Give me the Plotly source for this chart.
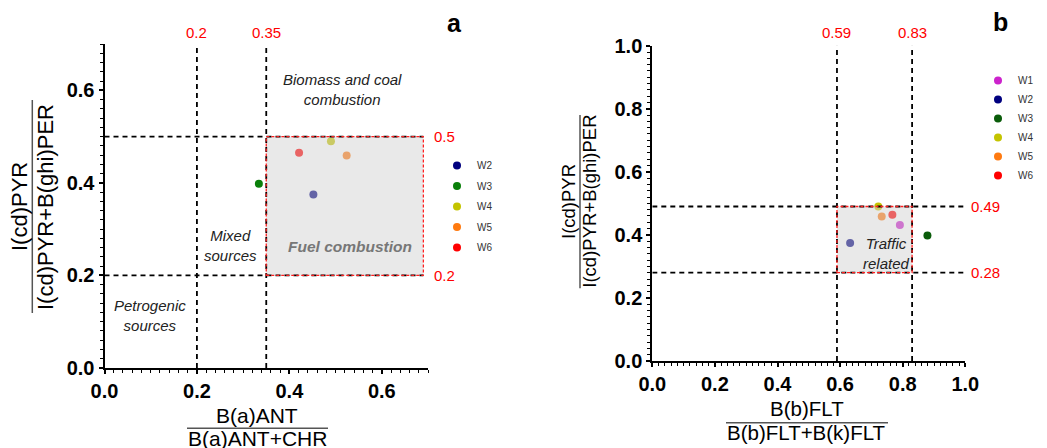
import plotly.graph_objects as go

# page body has an 8px margin: the figure is drawn 8px in from the window's corner
OFF = 8
W, H = 1047 - OFF, 448 - OFF

# ---------------- data ----------------
sites_a = ["W2", "W3", "W4", "W5", "W6"]
a_x = [0.452, 0.334, 0.490, 0.524, 0.421]
a_y = [0.375, 0.398, 0.490, 0.459, 0.465]

sites_b = ["W1", "W2", "W3", "W4", "W5", "W6"]
b_x = [0.791, 0.632, 0.879, 0.722, 0.733, 0.767]
b_y = [0.431, 0.374, 0.398, 0.490, 0.458, 0.464]

colors_a = {"W2": "#00007f", "W3": "#0a800a", "W4": "#c4c400", "W5": "#ff7a10", "W6": "#ff0000"}
colors_b = {"W1": "#cc22cc", "W2": "#00007f", "W3": "#0a5c0a", "W4": "#c4c400", "W5": "#ff7a10", "W6": "#ff0000"}

a_xcuts = [0.2, 0.35]
a_ycuts = [0.2, 0.5]
a_box = [0.35, 0.69, 0.2, 0.5]
a_range = [0, 0.7]
a_ticks = [0.0, 0.2, 0.4, 0.6]

b_xcuts = [0.59, 0.83]
b_ycuts = [0.28, 0.49]
b_box = [0.59, 0.83, 0.28, 0.49]
b_range = [0, 1.0]
b_ticks = [0.0, 0.2, 0.4, 0.6, 0.8, 1.0]

FONT = "Liberation Sans, Arial, sans-serif"


def px(x):
    return (x - OFF) / W


def py(y):
    return (H - (y - OFF)) / H


fig = go.Figure()

for s, x, y in zip(sites_a, a_x, a_y):
    fig.add_trace(go.Scatter(x=[x], y=[y], mode="markers", name=s,
                             marker=dict(color=colors_a[s], size=8),
                             xaxis="x", yaxis="y", legend="legend",
                             legendgroup="a" + s))
for s, x, y in zip(sites_b, b_x, b_y):
    fig.add_trace(go.Scatter(x=[x], y=[y], mode="markers", name=s,
                             marker=dict(color=colors_b[s], size=8),
                             xaxis="x2", yaxis="y2", legend="legend2",
                             legendgroup="b" + s))

shapes = []
annotations = []


def panel(xr, yr, xcuts, ycuts, box, rng, lab_px, ly_off, hline_end):
    x0, x1, y0, y1 = box
    # translucent box drawn above the markers
    shapes.append(dict(type="rect", xref=xr, yref=yr, x0=x0, x1=x1, y0=y0, y1=y1,
                       fillcolor="rgba(208,208,208,0.48)", line=dict(width=0), layer="above"))
    for c in xcuts:
        shapes.append(dict(type="line", xref=xr, yref=yr, x0=c, x1=c, y0=rng[0], y1=rng[1],
                           line=dict(color="black", width=1.8, dash="5px,4px"), layer="above"))
    for c in ycuts:
        shapes.append(dict(type="line", xref=xr, yref=yr, x0=rng[0], x1=hline_end,
                           y0=c, y1=c,
                           line=dict(color="black", width=1.8, dash="5px,4px"), layer="above"))
    shapes.append(dict(type="rect", xref=xr, yref=yr, x0=x0, x1=x1, y0=y0, y1=y1,
                       fillcolor="rgba(0,0,0,0)", line=dict(color="#ff2020", width=1.3, dash="3px,2px"),
                       layer="above"))
    for c in xcuts:
        annotations.append(dict(xref=xr, yref="paper", x=c, y=ly_off, text=f"{c:g}", showarrow=False,
                                font=dict(family=FONT, size=15, color="#ff0000"), xanchor="center",
                                yanchor="middle"))
    for c in ycuts:
        annotations.append(dict(xref="paper", yref=yr, x=px(lab_px), y=c, text=f"{c:g}", showarrow=False,
                                font=dict(family=FONT, size=15, color="#ff0000"), xanchor="left",
                                yanchor="middle"))


panel("x", "y", a_xcuts, a_ycuts, a_box, a_range, 432, py(33), a_box[1])
panel("x2", "y2", b_xcuts, b_ycuts, b_box, b_range, 969, py(32), b_range[1])

# region labels
reg_font = dict(family=FONT, size=15, color="#222")
annotations += [
    dict(xref="x", yref="y", x=0.516, y=0.601, text="<i>Biomass and coal<br>combustion</i>",
         showarrow=False, font=reg_font),
    dict(xref="x", yref="y", x=0.2735, y=0.265, text="<i>Mixed<br>sources</i>",
         showarrow=False, font=reg_font),
    dict(xref="x", yref="y", x=0.098, y=0.113, text="<i>Petrogenic<br>sources</i>",
         showarrow=False, font=reg_font),
    dict(xref="x", yref="y", x=0.531, y=0.263, text="<b><i>Fuel combustion</i></b>",
         showarrow=False, font=dict(family=FONT, size=15.5, color="#777")),
    dict(xref="x2", yref="y2", x=0.749, y=0.34, text="<i>Traffic<br>related</i>",
         showarrow=False, font=reg_font),
]

# panel letters
annotations += [
    dict(xref="paper", yref="paper", x=px(454), y=py(23), text="<b>a</b>", showarrow=False,
         xanchor="center", yanchor="middle", font=dict(family=FONT, size=25, color="black")),
    dict(xref="paper", yref="paper", x=px(1000), y=py(22), text="<b>b</b>", showarrow=False,
         xanchor="center", yanchor="middle", font=dict(family=FONT, size=25, color="black")),
]


# fraction axis titles
def frac_h(cx, ny, by, dy, bx0, bx1, num, den, size):
    for t, yy in ((num, ny), (den, dy)):
        annotations.append(dict(xref="paper", yref="paper", x=px(cx), y=py(yy), text=t, showarrow=False,
                                xanchor="center", yanchor="middle",
                                font=dict(family=FONT, size=size, color="black")))
    shapes.append(dict(type="line", xref="paper", yref="paper", x0=px(bx0), x1=px(bx1), y0=py(by), y1=py(by),
                       line=dict(color="#555", width=1.5)))


def frac_v(cy, nx, bx, dx, by0, by1, num, den, size):
    for t, xx in ((num, nx), (den, dx)):
        annotations.append(dict(xref="paper", yref="paper", x=px(xx), y=py(cy), text=t, showarrow=False,
                                xanchor="center", yanchor="middle", textangle=-90,
                                font=dict(family=FONT, size=size, color="black")))
    shapes.append(dict(type="line", xref="paper", yref="paper", x0=px(bx), x1=px(bx), y0=py(by0), y1=py(by1),
                       line=dict(color="#555", width=1.5)))


frac_h(257, 415, 428.3, 438, 187, 328, "B(a)ANT", "B(a)ANT+CHR", 21)
frac_v(207, 19, 32.3, 45, 100, 313, "I(cd)PYR", "I(cd)PYR+B(ghi)PER", 22)
frac_h(806.7, 408, 422.7, 432, 726, 888, "B(b)FLT", "B(b)FLT+B(k)FLT", 20.5)
frac_v(201.7, 568.3, 580, 590, 115, 288.3, "I(cd)PYR", "I(cd)PYR+B(ghi)PER", 18.5)


def axis(domain, rng, ticks, anchor):
    return dict(domain=domain, range=rng, anchor=anchor, tickvals=ticks,
                ticktext=[f"{t:.1f}" for t in ticks],
                showgrid=False, zeroline=False, showline=True, linecolor="black", linewidth=2,
                ticks="outside", ticklen=4, tickwidth=2, tickcolor="black",
                minor=dict(dtick=0.02, tick0=0, ticks="outside", ticklen=3, tickwidth=1.3, tickcolor="black"),
                tickfont=dict(family=FONT, size=20, color="black", weight="bold"),
                fixedrange=True)


fig.update_layout(
    width=W, height=H,
    margin=dict(l=0, r=0, t=0, b=0, autoexpand=False),
    paper_bgcolor="white", plot_bgcolor="white",
    xaxis=axis([px(104.5), px(428)], a_range, a_ticks, "y"),
    yaxis=axis([py(368), py(44)], a_range, a_ticks, "x"),
    xaxis2=axis([px(652.3), px(965.3)], b_range, b_ticks, "y2"),
    yaxis2=axis([py(361), py(45.7)], b_range, b_ticks, "x2"),
    shapes=shapes,
    annotations=annotations,
    legend=dict(x=px(437), y=py(151), xanchor="left", yanchor="top", tracegroupgap=1.5,
                itemwidth=30, bgcolor="rgba(0,0,0,0)",
                font=dict(family=FONT, size=10, color="#333")),
    legend2=dict(x=px(978), y=py(66), xanchor="left", yanchor="top", tracegroupgap=0,
                 itemwidth=30, bgcolor="rgba(0,0,0,0)",
                 font=dict(family=FONT, size=10, color="#333")),
    showlegend=True,
)

fig.write_html("out.html")
